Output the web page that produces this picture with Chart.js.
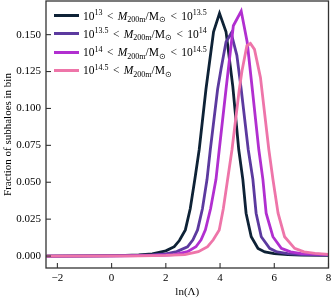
<!DOCTYPE html>
<html>
<head>
<meta charset="utf-8">
<script src="https://cdn.jsdelivr.net/npm/chart.js@4"></script>
<style>
  html, body { margin: 0; padding: 0; background: #fff; }
  #wrap { position: relative; width: 332px; height: 300px; }
  #legend {
    position: absolute; left: 54px; top: 6.6px;
    font-family: 'Liberation Serif', 'Times New Roman', serif; font-size: 11.5px; color: #000;
  }
  .row { height: 18.2px; display: flex; align-items: center; white-space: nowrap; }
  .swatch { width: 25px; height: 3px; margin-right: 4px; }
  .row sup { font-size: 8px; position: relative; top: -4.5px; vertical-align: baseline; }
  .row sub { font-size: 8px; position: relative; top: 2.5px; vertical-align: baseline; }
  .rel { margin: 0 1.5px; }
</style>
</head>
<body>
<div id="wrap">
  <canvas id="chart" width="332" height="300"></canvas>
  <div id="legend"></div>
</div>
<script>
// mass bins
const seriesLabels = [
  '10<sup>13</sup> <span class="rel">&lt;</span> <i>M</i><sub>200m</sub>/M<sub>⊙</sub> <span class="rel">&lt;</span> 10<sup>13.5</sup>',
  '10<sup>13.5</sup> <span class="rel">&lt;</span> <i>M</i><sub>200m</sub>/M<sub>⊙</sub> <span class="rel">&lt;</span> 10<sup>14</sup>',
  '10<sup>14</sup> <span class="rel">&lt;</span> <i>M</i><sub>200m</sub>/M<sub>⊙</sub> <span class="rel">&lt;</span> 10<sup>14.5</sup>',
  '10<sup>14.5</sup> <span class="rel">&lt;</span> <i>M</i><sub>200m</sub>/M<sub>⊙</sub>'
];
const colors = ['#0e2236', '#5c3a9f', '#b12fd0', '#ee75a9'];

// ln(Lambda) values and fraction per bin
const darkX = [-2.4, -1.0, 0.0, 0.5, 1.0, 1.5, 2.0, 2.31, 2.5, 2.72, 2.9, 3.07, 3.23, 3.48, 3.76, 3.98, 4.22, 4.47, 4.69, 4.84, 4.96, 5.15, 5.40, 5.65, 6.0, 6.5, 7.0, 8.0];
const darkY = [0, 0.0001, 0.0003, 0.0005, 0.0008, 0.0014, 0.0035, 0.0063, 0.0105, 0.0177, 0.032, 0.052, 0.072, 0.113, 0.152, 0.1645, 0.152, 0.115, 0.072, 0.052, 0.029, 0.0131, 0.0052, 0.0028, 0.0016, 0.001, 0.0007, 0.0004];

const purpleX = [-2.4, 0.0, 1.0, 1.5, 2.0, 2.4, 2.8, 3.0, 3.17, 3.35, 3.52, 3.64, 3.91, 4.04, 4.22, 4.41, 4.62, 4.78, 5.04, 5.21, 5.33, 5.52, 5.83, 6.1, 6.5, 7.0, 8.0];
const purpleY = [0, 0.0001, 0.0004, 0.0007, 0.0015, 0.003, 0.0063, 0.011, 0.0177, 0.032, 0.052, 0.072, 0.113, 0.127, 0.145, 0.151, 0.136, 0.113, 0.072, 0.052, 0.029, 0.0131, 0.0052, 0.0028, 0.0016, 0.001, 0.0007];

const magentaX = [-2.4, 0.5, 1.5, 2.0, 2.3, 2.8, 3.11, 3.3, 3.46, 3.65, 3.85, 3.97, 4.22, 4.49, 4.78, 5.0, 5.19, 5.43, 5.58, 5.70, 5.95, 6.26, 6.6, 7.0, 8.0];
const magentaY = [0, 0.0001, 0.0004, 0.0007, 0.001, 0.003, 0.0063, 0.011, 0.0177, 0.032, 0.052, 0.072, 0.113, 0.156, 0.166, 0.145, 0.113, 0.072, 0.052, 0.029, 0.0131, 0.0052, 0.0028, 0.0017, 0.001];

const pinkX = [-2.4, 1.0, 2.0, 2.7, 3.2, 3.54, 3.75, 3.97, 4.12, 4.28, 4.44, 4.71, 4.81, 4.99, 5.12, 5.27, 5.49, 5.80, 5.95, 6.14, 6.38, 6.75, 7.1, 7.5, 8.0];
const pinkY = [0, 0.0001, 0.0004, 0.001, 0.003, 0.0063, 0.011, 0.0177, 0.032, 0.052, 0.072, 0.113, 0.1255, 0.1425, 0.144, 0.140, 0.121, 0.072, 0.052, 0.029, 0.0131, 0.0052, 0.0028, 0.0018, 0.0012];

const xTicks = [-2, 0, 2, 4, 6, 8];
const yTicks = [0, 0.025, 0.05, 0.075, 0.1, 0.125, 0.15];

const seriesX = [darkX, purpleX, magentaX, pinkX];
const seriesY = [darkY, purpleY, magentaY, pinkY];

const FONT = "'Liberation Serif', 'Times New Roman', serif";

const datasets = seriesX.map((xs, i) => ({
  data: xs.map((x, j) => ({ x: x, y: seriesY[i][j] })),
  borderColor: colors[i],
  borderWidth: 2.8,
  pointRadius: 0,
  tension: 0,
  fill: false,
  order: 3 - i // last bin on top, like matplotlib
}));

// legend as html so the super/subscripts stay real text
const legend = document.getElementById('legend');
seriesLabels.forEach((lab, i) => {
  const row = document.createElement('div');
  row.className = 'row';
  row.innerHTML = '<span class="swatch" style="background:' + colors[i] + '"></span><span>' + lab + '</span>';
  legend.appendChild(row);
});

// frame + inward ticks
const framePlugin = {
  id: 'frame',
  afterDraw(chart) {
    const { ctx, chartArea: a, scales } = chart;
    ctx.save();
    ctx.strokeStyle = '#333';
    ctx.lineWidth = 1.1;
    xTicks.forEach(v => {
      const px = scales.x.getPixelForValue(v);
      ctx.beginPath(); ctx.moveTo(px, a.bottom); ctx.lineTo(px, a.bottom - 5); ctx.stroke();
    });
    yTicks.forEach(v => {
      const py = scales.y.getPixelForValue(v);
      ctx.beginPath(); ctx.moveTo(a.left, py); ctx.lineTo(a.left + 5, py); ctx.stroke();
    });
    ctx.lineWidth = 1.3;
    ctx.strokeRect(a.left, a.top, a.right - a.left, a.bottom - a.top);
    ctx.restore();
  }
};

const noGrid = { display: false, drawTicks: false, tickLength: 0 };

new Chart(document.getElementById('chart'), {
  type: 'line',
  data: { datasets: datasets },
  options: {
    responsive: false,
    animation: false,
    layout: { padding: { top: 1, right: 3.5, left: 0, bottom: 0 } },
    plugins: { legend: { display: false }, tooltip: { enabled: false } },
    scales: {
      x: {
        type: 'linear',
        min: -2.42,
        max: 8,
        grid: noGrid,
        border: { display: false },
        afterFit: (s) => { s.height = 32; s.paddingLeft = 0; s.paddingRight = 0; },
        afterBuildTicks: (s) => { s.ticks = xTicks.map(v => ({ value: v })); },
        ticks: {
          color: '#000',
          padding: 4,
          font: { family: FONT, size: 11 },
          callback: (v) => (v < 0 ? '\u2212' + Math.abs(v) : '' + v)
        },
        title: {
          display: true,
          text: 'ln(Λ)',
          color: '#000',
          font: { family: FONT, size: 11 },
          padding: { top: 0, bottom: 1 }
        }
      },
      y: {
        min: -0.0081,
        max: 0.1728,
        grid: noGrid,
        border: { display: false },
        afterFit: (s) => { s.width = 46; s.paddingTop = 0; s.paddingBottom = 0; },
        afterBuildTicks: (s) => { s.ticks = yTicks.map(v => ({ value: v })); },
        ticks: {
          color: '#000',
          padding: 5,
          font: { family: FONT, size: 11 },
          callback: (v) => v.toFixed(3)
        },
        title: {
          display: true,
          text: 'Fraction of subhaloes in bin',
          color: '#000',
          font: { family: FONT, size: 11 },
          padding: { top: 2, bottom: 0 }
        }
      }
    }
  },
  plugins: [framePlugin]
});
</script>
</body>
</html>
